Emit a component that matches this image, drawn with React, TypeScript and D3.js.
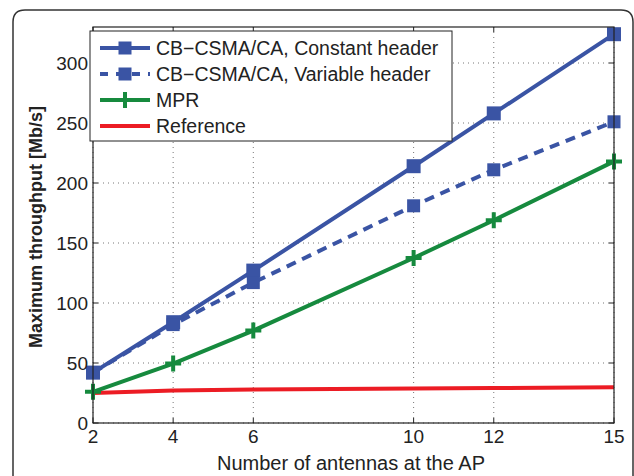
import React from "react";
import * as d3 from "d3";

const antennas = [2, 4, 6, 10, 12, 15];
const constantHeader = [42, 84, 127, 214, 258, 324];
const variableHeader = [42, 82, 117, 181, 211, 251];
const mpr = [26, 49.5, 77, 137.5, 169, 218];
const reference = [25, 27, 28, 28.8, 29.2, 29.7];
const yTicks = [0, 50, 100, 150, 200, 250, 300];

const width = 634;
const height = 476;
const margin = { left: 93, right: 20, top: 27, bottom: 53 };

const blue = "#3a54a4";
const green = "#168a3e";
const red = "#ec1c24";

export default function App() {
  const x = d3.scaleLinear().domain([2, 15]).range([margin.left, width - margin.right]);
  const y = d3.scaleLinear().domain([0, 330]).range([height - margin.bottom, margin.top]);
  const line = d3
    .line<number>()
    .x((_, i) => x(antennas[i]))
    .y((d) => y(d));

  const [x0, x1] = x.range();
  const [y0, y1] = y.range();
  const font = "'Liberation Sans', Arial, sans-serif";

  const legend = [
    { label: "CB\u2212CSMA/CA, Constant header", color: blue, dash: undefined, marker: "sq" },
    { label: "CB\u2212CSMA/CA, Variable header", color: blue, dash: "8,8", marker: "sq" },
    { label: "MPR", color: green, dash: undefined, marker: "plus" },
    { label: "Reference", color: red, dash: undefined, marker: "none" },
  ];

  const square = (cx: number, cy: number, s: number, c: string, k: string) => (
    <rect key={k} x={cx - s / 2} y={cy - s / 2} width={s} height={s} fill={c} />
  );
  const plus = (cx: number, cy: number, s: number, c: string, k: string) => (
    <path
      key={k}
      d={`M${cx - s / 2},${cy}H${cx + s / 2}M${cx},${cy - s / 2}V${cy + s / 2}`}
      stroke={c}
      strokeWidth={4}
    />
  );

  return (
    <svg
      width={width}
      height={height}
      style={{ position: "absolute", left: 0, top: 0, background: "#fff" }}
      fontFamily={font}
    >
      <path
        d={`M13,${height + 5}V22Q13,10 25,10H621Q633,10 633,22V${height + 5}`}
        fill="none"
        stroke="#333"
        strokeWidth={1.5}
      />
      {/* grid */}
      <g stroke="#777" strokeWidth={1} strokeDasharray="1,4">
        {antennas.map((a) => (
          <line key={"gx" + a} x1={x(a)} x2={x(a)} y1={y0} y2={y1} />
        ))}
        {yTicks.map((t) => (
          <line key={"gy" + t} x1={x0} x2={x1} y1={y(t)} y2={y(t)} />
        ))}
      </g>
      {/* ticks */}
      <g stroke="#222" strokeWidth={1}>
        {antennas.map((a) => (
          <g key={"tx" + a}>
            <line x1={x(a)} x2={x(a)} y1={y0} y2={y0 - 5} />
            <line x1={x(a)} x2={x(a)} y1={y1} y2={y1 + 5} />
          </g>
        ))}
        {yTicks.map((t) => (
          <g key={"ty" + t}>
            <line x1={x0} x2={x0 + 5} y1={y(t)} y2={y(t)} />
            <line x1={x1} x2={x1 - 5} y1={y(t)} y2={y(t)} />
          </g>
        ))}
      </g>
      {/* series */}
      <path d={line(reference) || ""} fill="none" stroke={red} strokeWidth={4} />
      <path d={line(mpr) || ""} fill="none" stroke={green} strokeWidth={4} />
      <path d={line(variableHeader) || ""} fill="none" stroke={blue} strokeWidth={4} strokeDasharray="10,7" />
      <path d={line(constantHeader) || ""} fill="none" stroke={blue} strokeWidth={4} />
      {constantHeader.map((v, i) => square(x(antennas[i]), y(v), 14, blue, "c" + i))}
      {variableHeader.map((v, i) => square(x(antennas[i]), y(v), 13, blue, "v" + i))}
      {mpr.map((v, i) => plus(x(antennas[i]), y(v), 16, green, "m" + i))}
      {/* frame */}
      <rect x={x0} y={y1} width={x1 - x0} height={y0 - y1} fill="none" stroke="#222" strokeWidth={1.2} />
      {/* tick labels */}
      <g fontSize={19} fill="#222">
        {antennas.map((a) => (
          <text key={"lx" + a} x={x(a)} y={y0 + 20} textAnchor="middle">
            {a}
          </text>
        ))}
        {yTicks.map((t) => (
          <text key={"ly" + t} x={x0 - 5} y={y(t) + 7} textAnchor="end">
            {t}
          </text>
        ))}
      </g>
      <text x={351} y={470} textAnchor="middle" fontSize={20} fill="#222">
        Number of antennas at the AP
      </text>
      <text
        transform={`translate(42,${(y0 + y1) / 2 + 2}) rotate(-90)`}
        textAnchor="middle"
        fontSize={18}
        fontWeight="bold"
        fill="#222"
      >
        Maximum throughput [Mb/s]
      </text>
      {/* legend */}
      <rect x={90} y={31} width={362} height={110} fill="#fff" stroke="#222" strokeWidth={1} />
      {legend.map((d, i) => {
        const ly = 48 + i * 26;
        return (
          <g key={"lg" + i}>
            <line x1={100} x2={150} y1={ly} y2={ly} stroke={d.color} strokeWidth={4} strokeDasharray={d.dash} />
            {d.marker === "sq" && square(125, ly, 13, d.color, "lsq")}
            {d.marker === "plus" && plus(125, ly, 16, d.color, "lpl")}
            <text x={156} y={ly + 7} fontSize={19.5} fill="#222">
              {d.label}
            </text>
          </g>
        );
      })}
    </svg>
  );
}
